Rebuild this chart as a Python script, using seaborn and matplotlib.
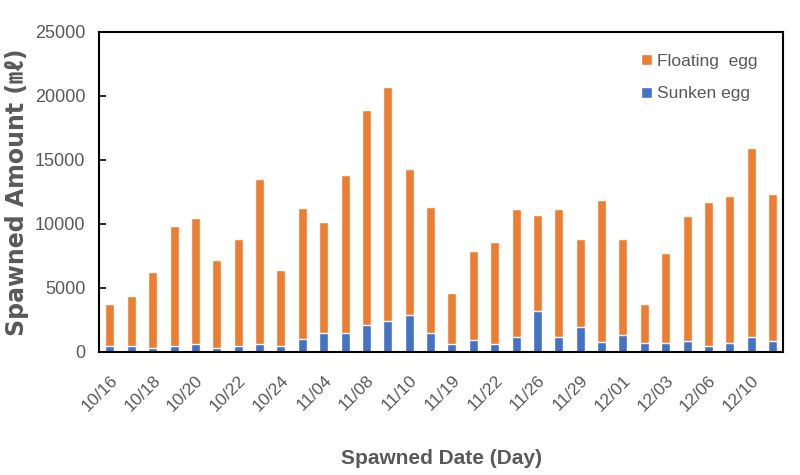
import numpy as np
import matplotlib
matplotlib.use("Agg")
import matplotlib.pyplot as plt
from matplotlib.ticker import FixedLocator
import seaborn as sns

# values (mL per spawning day)
sunken = [500, 500, 300, 430, 640, 300, 430, 640, 500, 1030, 1490, 1490,
          2140, 2400, 2890, 1490, 640, 950, 640, 1150, 3230, 1150, 1930, 760,
          1360, 690, 690, 840, 500, 690, 1150, 840]
floating = [3250, 3870, 5940, 9410, 9850, 6920, 8430, 12860, 5940, 10220,
            8670, 12350, 16790, 18280, 11390, 9860, 3990, 6920, 7980, 9990,
            7470, 9990, 6930, 11130, 7500, 3060, 7000, 9750, 11180, 11510,
            14750, 11460]
# only every other day is labelled on the axis
date_labels = ["10/16", "10/18", "10/20", "10/22", "10/24", "11/04", "11/08",
               "11/10", "11/19", "11/22", "11/26", "11/29", "12/01", "12/03",
               "12/06", "12/10"]
y_ticks = [0, 5000, 10000, 15000, 20000, 25000]

ORANGE = "#ED7D31"
BLUE = "#4472C4"
GRAY = "#595959"

sns.set_style("white")
plt.rcParams["font.family"] = ["Liberation Sans", "DejaVu Sans"]

day = np.arange(len(sunken))
total = np.add(sunken, floating)

fig, ax = plt.subplots(figsize=(8, 4.75), dpi=100)
fig.subplots_adjust(left=0.124, right=0.979, top=0.933, bottom=0.259)

sns.barplot(x=day, y=total, color=ORANGE, width=0.42, saturation=1,
            label="Floating  egg", ax=ax)
sns.barplot(x=day, y=sunken, color=BLUE, width=0.42, saturation=1,
            label="Sunken egg", ax=ax)

ax.set_xlim(-0.5, len(day) - 0.5)
ax.set_ylim(0, 25000)
ax.set_yticks(y_ticks)
ax.set_yticklabels([str(v) for v in y_ticks], color=GRAY, fontsize=13)

ax.set_xticks(day[::2])
ax.set_xticklabels(date_labels, rotation=45, ha="right",
                   rotation_mode="anchor", color=GRAY, fontsize=12.5)
ax.xaxis.set_minor_locator(FixedLocator(np.arange(len(day) - 1) + 0.5))
ax.tick_params(axis="x", which="major", length=0, pad=15)
ax.tick_params(axis="x", which="minor", direction="in", length=5,
               width=1.2, color="black")
ax.tick_params(axis="y", direction="in", length=5, width=1.2,
               color="black", pad=10, left=True)

for side in ["left", "right", "top", "bottom"]:
    ax.spines[side].set_visible(True)
    ax.spines[side].set_color("black")
    ax.spines[side].set_linewidth(1.5)

ax.set_xlabel("Spawned Date (Day)", fontsize=15, fontweight="bold",
              color=GRAY, labelpad=25,
              family=["Liberation Sans Narrow", "Liberation Sans"])
ax.set_ylabel("Spawned Amount (㎖)", fontsize=17, fontweight="bold",
              color=GRAY, labelpad=4,
              family=["DejaVu Sans", "Noto Sans CJK KR"])

leg = ax.legend(loc="upper right", frameon=False, fontsize=12.5,
                handlelength=0.6, handleheight=0.6, handletextpad=0.3,
                labelspacing=1.0, bbox_to_anchor=(0.985, 0.98))
for t in leg.get_texts():
    t.set_color(GRAY)

fig.savefig("out.png", dpi=100)
